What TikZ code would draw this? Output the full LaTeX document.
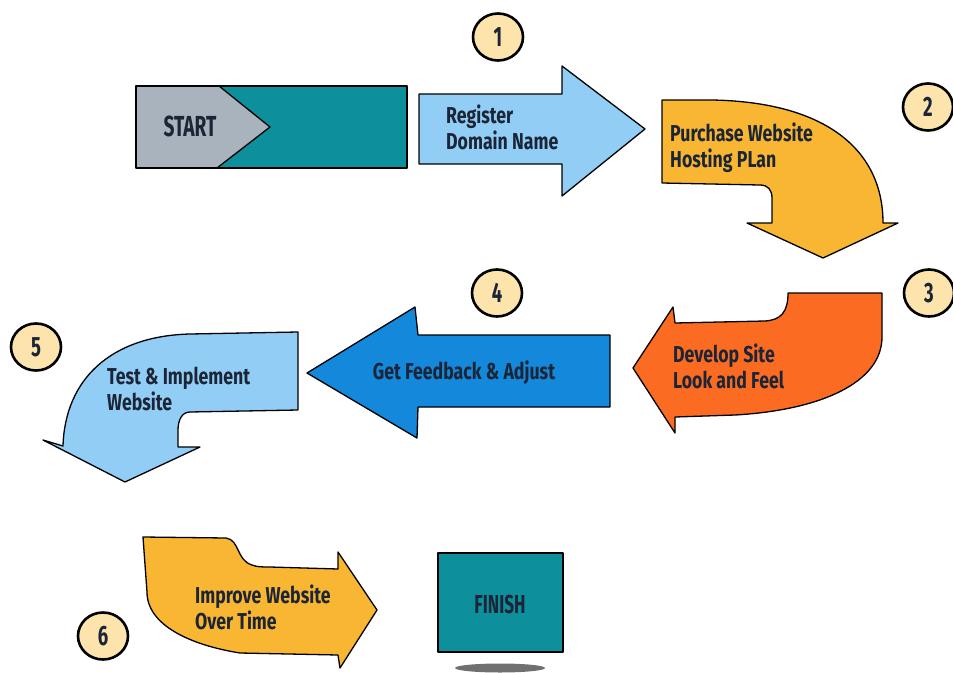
\documentclass[tikz,border=0pt]{standalone}
\usepackage{fontspec}
\newfontfamily\lblfont[FakeStretch=0.77]{Fira Sans}
\newfontfamily\bigfont[FakeStretch=0.66]{Fira Sans}
\definecolor{txt}{HTML}{1B2536}
\definecolor{cgray}{HTML}{A9B3BD}
\definecolor{cteal}{HTML}{0E8F9C}
\definecolor{clblue}{HTML}{91CDF5}
\definecolor{cyel}{HTML}{F9B633}
\definecolor{corange}{HTML}{FB6B22}
\definecolor{cblue}{HTML}{1488DA}
\definecolor{ccirc}{HTML}{FCE4AC}
\definecolor{cshadow}{HTML}{707070}
\begin{document}
\begin{tikzpicture}[x=1pt,y=-1pt,
  shapeline/.style={draw=black, line width=1.3pt, line join=round},
  lbl/.style={text=txt, font=\lblfont\bfseries\fontsize{23}{26}\selectfont, align=left, inner sep=0pt},
  bigl/.style={text=txt, font=\bigfont\bfseries\fontsize{29}{32}\selectfont, inner sep=0pt},
  numcirc/.style={draw=black, line width=2.6pt, fill=ccirc, ellipse, minimum width=50pt, minimum height=47pt, inner sep=0pt, text=txt, font=\bigfont\bfseries\fontsize{28}{30}\selectfont}]
\usetikzlibrary{shapes.geometric}
\useasboundingbox (0,0) rectangle (953,672);

% START block
\fill[cteal] (136,86) rectangle (407,168);
\fill[cgray] (136,86) -- (219,86) -- (270,127) -- (217,168) -- (136,168) -- cycle;
\draw[shapeline] (219,86) -- (270,127) -- (217,168);
\draw[shapeline] (136,86) rectangle (407,168);
\node[bigl] (start) at (190,126) {START};

% Arrow 1
\draw[shapeline, fill=clblue] (419,94) -- (562,94) -- (562,66) -- (645,129) -- (562,196) -- (562,164) -- (419,164) -- cycle;
\node[lbl, anchor=west] (reg) at (446,127) {Register\\Domain Name};

% Arrow 2
\draw[shapeline, fill=cyel] (662,100) -- (712,100) .. controls (826,102) and (883,150) .. (883,223)
  -- (898,223) -- (823,258) -- (747,223) -- (772,223) -- (772,198)
  .. controls (772,190) and (768,185) .. (760,185) -- (662,183) -- cycle;
\node[lbl, anchor=west] (purch) at (670,148) {Purchase Website\\Hosting PLan};

% Arrow 3
\draw[shapeline, fill=corange] (882,293) -- (788,293) .. controls (788,312) and (781,320) .. (765,321)
  -- (675,323) -- (673,307) -- (633,368) -- (675,433) -- (675,417) -- (735,415)
  .. controls (822,410) and (882,382) .. (882,337) -- cycle;
\node[lbl, anchor=west] (dev) at (673,366) {Develop Site\\Look and Feel};

% Arrow 4
\draw[shapeline, fill=cblue] (610,335) -- (418,335) -- (415,307) -- (307,373) -- (417,438) -- (418,407) -- (610,407) -- cycle;
\node[lbl, anchor=center] (feed) at (464,373) {Get Feedback \& Adjust};

% Arrow 5
\draw[shapeline, fill=clblue] (298,332) -- (298,410) -- (190,412) .. controls (182,412) and (178,420) .. (178,430)
  -- (178,447) -- (200,447) -- (125,482) -- (43,440) -- (63,446)
  .. controls (65,380) and (110,336) .. (190,334) -- cycle;
\node[lbl, anchor=west] (test) at (107,389) {Test \& Implement\\Website};

% Arrow 6
\draw[shapeline, fill=cyel] (143,537) -- (226,538) .. controls (240,540) and (236,560) .. (252,565)
  .. controls (257,567) and (262,567) .. (270,567) -- (338,569) -- (338,552) -- (377,610)
  -- (340,668) -- (338,655) -- (240,653) .. controls (190,645) and (147,625) .. (147,592) -- cycle;
\node[lbl, anchor=west] (impr) at (195,607) {Improve Website\\Over Time};

% FINISH
\fill[cshadow] (500,668) ellipse (45 and 4.5);
\draw[shapeline, fill=cteal] (438,553) rectangle (563,652);
\node[bigl, font=\bigfont\bfseries\fontsize{26}{28}\selectfont] (finish) at (500,604) {FINISH};

% number circles
\node[numcirc] (n1) at (498,37) {1};
\node[numcirc] (n2) at (928,107) {2};
\node[numcirc] (n3) at (929,293) {3};
\node[numcirc] (n4) at (497,293) {4};
\node[numcirc] (n5) at (36,347) {5};
\node[numcirc] (n6) at (103,636) {6};
\end{tikzpicture}
\end{document}
